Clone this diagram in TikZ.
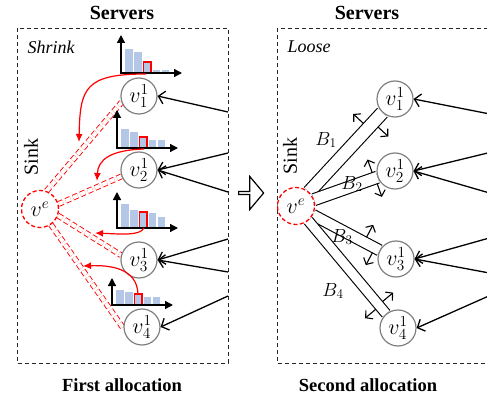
\RequirePackage{fix-cm}
\documentclass[tikz,border=0pt]{standalone}
\usepackage{fontspec}
\setmainfont{Liberation Serif}
\usetikzlibrary{arrows.meta,calc,shapes.arrows,backgrounds}
\definecolor{barblue}{HTML}{B4C7E7}
\definecolor{ringgray}{HTML}{808080}
\begin{document}
\begin{tikzpicture}[x=1pt,y=-1pt,
  frame/.style={draw=black!85,dash pattern=on 4pt off 3pt,line width=0.9pt},
  server/.style={circle,draw=ringgray,line width=1.2pt,fill=white,minimum size=36pt,inner sep=0pt,font=\fontsize{22}{24}\selectfont},
  sink/.style={circle,draw=red,dash pattern=on 4pt off 2.5pt,line width=1.3pt,fill=white,minimum size=37pt,inner sep=0pt,font=\fontsize{22}{24}\selectfont},
  heading/.style={font=\bfseries\fontsize{20}{24}\selectfont},
  caption/.style={font=\bfseries\fontsize{18.5}{22}\selectfont},
  mode/.style={font=\itshape\fontsize{18}{22}\selectfont,anchor=west},
  sinktext/.style={font=\fontsize{20}{24}\selectfont,rotate=90},
  feed/.style={draw=black,line width=1.3pt,-{Straight Barb[length=6pt,width=13pt]}},
  hot/.style={draw=red,line width=1.2pt},
  pipe/.style={draw=red,dash pattern=on 5pt off 3pt,line width=0.9pt,double=white,double distance=4pt},
  band/.style={draw=black,line width=1.1pt,double=white},
  expand/.style={draw=black,line width=1.1pt,-{Straight Barb[length=5pt,width=11pt]}},
  axis/.style={draw=black,line width=1.3pt,{Triangle[length=8pt,width=8pt]}-{Triangle[length=8pt,width=8pt]}},
  bandlabel/.style={font=\fontsize{19}{22}\selectfont},
]
\useasboundingbox (0,0) rectangle (487,401);
\clip (0,0) rectangle (487,401);

\node[heading] (headL) at (122,13) {Servers};
\node[heading] (headR) at (367,13) {Servers};
\node[caption] (capL) at (122,385) {First allocation};
\node[caption] (capR) at (368,385) {Second allocation};

\draw[frame] (17,28) rectangle (228,363);
\draw[frame] (277,28) rectangle (520,363);
\node[mode] (shrink) at (24,47) {Shrink};
\node[mode] (loose) at (284,47) {Loose};
\node[sinktext] (sinkL) at (31,157) {Sink};
\node[sinktext] (sinkR) at (290,156) {Sink};

\node[server] (l1) at (139,96) {$v_1^1$};
\node[server] (l2) at (139,170) {$v_2^1$};
\node[server] (l3) at (139,260) {$v_3^1$};
\node[server] (l4) at (142,327) {$v_4^1$};
\node[sink] (le) at (40,209) {$v^e$};

\node[server] (r1) at (395,99) {$v_1^1$};
\node[server] (r2) at (395,171) {$v_2^1$};
\node[server] (r3) at (396,259) {$v_3^1$};
\node[server] (r4) at (398,328) {$v_4^1$};
\node[sink] (re) at (296,206) {$v^e$};

\node[single arrow,draw,line width=1.2pt,fill=white,inner sep=0pt,minimum height=25pt,minimum width=33pt,
  single arrow head extend=6pt,single arrow tip angle=100] (shift) at (250.5,193) {};

\begin{scope}[on background layer]
  \draw[pipe] (le.70) -- (l1.200);
  \draw[pipe] (le.15) -- (l2.200);
  \draw[pipe] (le.-20) -- (l3.165);
  \draw[pipe] (le.-55) -- (l4.185);
  \foreach \k/\dd in {1/12,2/11,3/10,4/9}
    \draw[band,double distance=\dd pt] (re) -- (r\k);
\end{scope}

\foreach \k/\ta/\tb/\dd in {1/0.73/0.78/12,2/0.79/0.80/11,3/0.68/0.79/10,4/0.81/0.82/9}{
  \pgfmathsetmacro\off{0.5*\dd+0.5}
  \pgfmathsetmacro\tipoff{\off+14}
  \draw[expand] ($(re)!\ta!(r\k)!\off pt!90:(r\k)$) -- ($(re)!\ta!(r\k)!\tipoff pt!90:(r\k)$);
  \draw[expand] ($(re)!\tb!(r\k)!\off pt!-90:(r\k)$) -- ($(re)!\tb!(r\k)!\tipoff pt!-90:(r\k)$);
}
\node[bandlabel] (b1) at (326,140) {$B_1$};
\node[bandlabel] (b2) at (352,184) {$B_2$};
\node[bandlabel] (b3) at (342,237) {$B_3$};
\node[bandlabel] (b4) at (333,291) {$B_4$};

\coordinate (la1) at (228,112);
\coordinate (la2) at (228,153);
\coordinate (lb2) at (228,192);
\coordinate (la3) at (228,239);
\coordinate (lb3) at (228,272);
\coordinate (la4) at (228,296);
\coordinate (ra1) at (500,116);
\coordinate (ra2) at (500,150);
\coordinate (rb2) at (500,196);
\coordinate (ra3) at (500,235);
\coordinate (rb3) at (500,275);
\coordinate (ra4) at (500,291);
\foreach \s/\t in {la1/l1,la2/l2,lb2/l2,la3/l3,lb3/l3,la4/l4,ra1/r1,ra2/r2,rb2/r2,ra3/r3,rb3/r3,ra4/r4}
  \draw[feed] (\s) -- (\t.east);

\foreach \hx/\hy/\hv/\hr/\hs in {121/73/38/11/{24,21,11,3,3},117/148/38/11/{19,16,11,8,8},117/228/36/16/{24,18,16,15,11},112/305/27/11/{15,13,11,8,8}}{
  \foreach \h [count=\i] in \hs
    \fill[barblue] ({\hx+4+9.2*(\i-1)},\hy) rectangle ++(7.5,-\h);
  \draw[hot] ({\hx+4+18.4},\hy) rectangle ++(7.5,-\hr);
  \draw[axis] (\hx,\hy-\hv) -- (\hx,\hy) -- (\hx+61,\hy);
}

\coordinate (bar1) at (146,74);
\coordinate (bar2) at (144,149);
\coordinate (bar3) at (144,228);
\coordinate (bar4) at (138,294);
\coordinate (drop1) at (79,142);
\coordinate (drop2) at (97,181);
\coordinate (drop3) at (95,233);
\coordinate (drop4) at (83,266);
\draw[hot,-{Latex[length=8pt,width=7pt]}] (bar1) .. controls (85,74) and (80,88) .. (drop1);
\draw[hot,-{Latex[length=8pt,width=7pt]}] (bar2) .. controls (110,150) and (98,160) .. (drop2);
\draw[hot,-{Latex[length=8pt,width=7pt]}] (bar3) .. controls (140,236) and (120,234) .. (drop3);
\draw[hot,-{Latex[length=8pt,width=7pt]}] (bar4) .. controls (137,268) and (110,265) .. (drop4);
\end{tikzpicture}
\end{document}
